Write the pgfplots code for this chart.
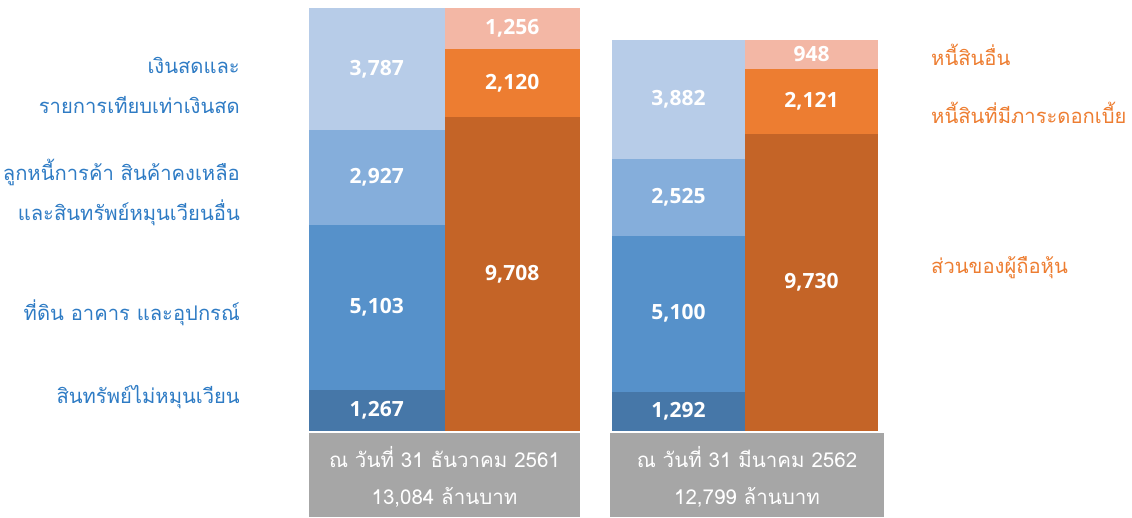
\documentclass[border=0pt]{standalone}
\usepackage{pgfplots}
\pgfplotsset{compat=1.18}
\usepackage{fontspec}
\newfontfamily\thaifont[Script=Thai]{Loma}
\newfontfamily\numfont{Open Sans}
\definecolor{a1}{HTML}{4677A8}
\definecolor{a2}{HTML}{5691CA}
\definecolor{a3}{HTML}{85AEDB}
\definecolor{a4}{HTML}{B7CCE8}
\definecolor{l1}{HTML}{C46427}
\definecolor{l2}{HTML}{ED7D31}
\definecolor{l3}{HTML}{F3B7A5}
\definecolor{boxgray}{HTML}{A6A6A6}
\definecolor{txtblue}{HTML}{2E7BC4}
\definecolor{txtorange}{HTML}{ED7D31}
\pgfplotsset{
  barax/.style={scale only axis, anchor=south west, xmin=0, xmax=2, ymin=0,
    axis lines=none, clip=false},
  lbl/.style={draw=none, mark=none, nodes near coords, point meta=explicit symbolic,
    every node near coord/.style={anchor=center, text=white,
      font=\numfont\bfseries\fontsize{21}{24}\selectfont}},
}
\begin{document}
\begin{tikzpicture}
\useasboundingbox (0,0) rectangle (1132pt,518pt);
% ---- left group (31 Dec 2561)
\begin{axis}[barax, at={(309pt,87pt)}, width=271pt, height=423pt, ymax=13084,
  ybar stacked, bar width=135.5pt]
\addplot[fill=a1, draw=none] coordinates {(0.5,1267) (1.5,0)};
\addplot[fill=a2, draw=none] coordinates {(0.5,5103) (1.5,0)};
\addplot[fill=a3, draw=none] coordinates {(0.5,2927) (1.5,0)};
\addplot[fill=a4, draw=none] coordinates {(0.5,3787) (1.5,0)};
\addplot[fill=l1, draw=none] coordinates {(0.5,0) (1.5,9708)};
\addplot[fill=l2, draw=none] coordinates {(0.5,0) (1.5,2120)};
\addplot[fill=l3, draw=none] coordinates {(0.5,0) (1.5,1256)};
\end{axis}
\begin{axis}[barax, at={(309pt,87pt)}, width=271pt, height=423pt, ymax=13084]
\addplot[lbl] coordinates {(0.5,633.5) [1,267] (0.5,3818.5) [5,103] (0.5,7833.5) [2,927] (0.5,11190.5) [3,787]
  (1.5,4854) [9,708] (1.5,10768) [2,120] (1.5,12456) [1,256]};
\end{axis}
% ---- right group (31 Mar 2562)
\begin{axis}[barax, at={(612pt,87pt)}, width=266pt, height=391pt, ymax=12799,
  ybar stacked, bar width=133pt]
\addplot[fill=a1, draw=none] coordinates {(0.5,1292) (1.5,0)};
\addplot[fill=a2, draw=none] coordinates {(0.5,5100) (1.5,0)};
\addplot[fill=a3, draw=none] coordinates {(0.5,2525) (1.5,0)};
\addplot[fill=a4, draw=none] coordinates {(0.5,3882) (1.5,0)};
\addplot[fill=l1, draw=none] coordinates {(0.5,0) (1.5,9730)};
\addplot[fill=l2, draw=none] coordinates {(0.5,0) (1.5,2121)};
\addplot[fill=l3, draw=none] coordinates {(0.5,0) (1.5,948)};
\end{axis}
\begin{axis}[barax, at={(612pt,87pt)}, width=266pt, height=391pt, ymax=12799]
\addplot[lbl] coordinates {(0.5,646) [1,292] (0.5,3842) [5,100] (0.5,7654.5) [2,525] (0.5,10858) [3,882]
  (1.5,4865) [9,730] (1.5,10790.5) [2,121] (1.5,12325) [948]};
\end{axis}
% ---- gray date boxes
\fill[boxgray] (309pt,1pt) rectangle (580pt,85pt);
\fill[boxgray] (610pt,1pt) rectangle (884pt,85pt);
\begin{scope}[every node/.style={text=white, font=\thaifont\fontsize{20.5}{24}\selectfont}]
\node at (444.5pt,61pt) {ณ วันที่ 31 ธันวาคม 2561};
\node at (444.5pt,21pt) {13,084 ล้านบาท};
\node at (747pt,61pt) {ณ วันที่ 31 มีนาคม 2562};
\node at (747pt,21pt) {12,799 ล้านบาท};
\end{scope}
% ---- side labels
\begin{scope}[every node/.style={anchor=east, text=txtblue, inner sep=0pt, font=\thaifont\fontsize{20.2}{24}\selectfont}]
\node at (240pt,453pt) {เงินสดและ};
\node at (240pt,413pt) {รายการเทียบเท่าเงินสด};
\node at (240pt,346pt) {ลูกหนี้การค้า สินค้าคงเหลือ};
\node at (240pt,305pt) {และสินทรัพย์หมุนเวียนอื่น};
\node at (240pt,205pt) {ที่ดิน อาคาร และอุปกรณ์};
\node at (240pt,121pt) {สินทรัพย์ไม่หมุนเวียน};
\end{scope}
\begin{scope}[every node/.style={anchor=west, text=txtorange, inner sep=0pt, font=\thaifont\fontsize{20.2}{24}\selectfont}]
\node at (931pt,463pt) {หนี้สินอื่น};
\node at (931pt,405pt) {หนี้สินที่มีภาระดอกเบี้ย};
\node at (931pt,250pt) {ส่วนของผู้ถือหุ้น};
\end{scope}
\end{tikzpicture}
\end{document}
